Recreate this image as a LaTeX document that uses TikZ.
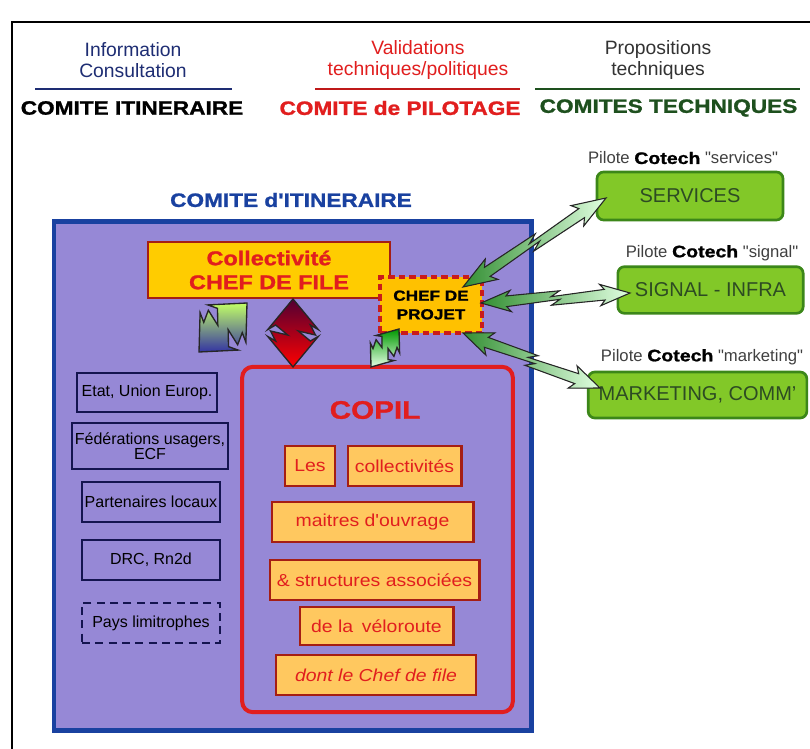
\documentclass[tikz,border=0pt]{standalone}
\usepackage{fontspec}
\setmainfont{Liberation Sans}
\newfontfamily\heavyfont[FakeStretch=1.17,FakeBold=1.2]{Liberation Sans}
\newfontfamily\widefont[FakeStretch=1.12]{Liberation Sans}
\usetikzlibrary{calc}

\definecolor{lilac}{RGB}{150,136,214}
\definecolor{boxblue}{RGB}{25,65,160}
\definecolor{infoblue}{RGB}{30,45,115}
\definecolor{navyline}{RGB}{20,20,80}
\definecolor{pilred}{RGB}{225,30,30}
\definecolor{darkred}{RGB}{165,30,20}
\definecolor{chefyellow}{RGB}{255,204,0}
\definecolor{copilfill}{RGB}{255,200,95}
\definecolor{techgreen}{RGB}{30,80,30}
\definecolor{cotechfill}{RGB}{130,200,40}
\definecolor{cotechdraw}{RGB}{60,135,25}
\definecolor{cotechtext}{RGB}{45,75,35}

% double fleche en zigzag : style, depart, arrivee, part de la tete, demi-largeur tete, demi-largeur corps
\newcommand\jagarrow[6]{%
	\pgfmathsetmacro\jagf{#4}%
	\pgfmathsetmacro\jagn{0.85*#4}%
	\pgfmathsetmacro\jagF{1-#4}%
	\pgfmathsetmacro\jagN{1-0.85*#4}%
	\pgfmathsetlengthmacro\jagH{#5}%
	\pgfmathsetlengthmacro\jagB{#6}%
	\pgfmathsetlengthmacro\jagC{1.3*#6}%
	\pgfmathsetlengthmacro\jagD{0.3*#6}%
	\filldraw[#1] (#2)
		-- ($(#2)!\jagf!(#3)!\jagH!90:(#3)$)
		-- ($(#2)!\jagn!(#3)!\jagB!90:(#3)$)
		-- ($(#2)!0.53!(#3)!\jagC!90:(#3)$)
		-- ($(#2)!0.47!(#3)!\jagD!90:(#3)$)
		-- ($(#2)!\jagN!(#3)!\jagB!90:(#3)$)
		-- ($(#2)!\jagF!(#3)!\jagH!90:(#3)$)
		-- (#3)
		-- ($(#2)!\jagF!(#3)!\jagH!-90:(#3)$)
		-- ($(#2)!\jagN!(#3)!\jagB!-90:(#3)$)
		-- ($(#2)!0.47!(#3)!\jagC!-90:(#3)$)
		-- ($(#2)!0.53!(#3)!\jagD!-90:(#3)$)
		-- ($(#2)!\jagn!(#3)!\jagB!-90:(#3)$)
		-- ($(#2)!\jagf!(#3)!\jagH!-90:(#3)$)
		-- cycle;}

\tikzset{
	head/.style={align=center, font=\fontsize{14.5}{15.5}\selectfont},
	title/.style={font=\heavyfont\bfseries\fontsize{14.5}{16}\selectfont},
	side/.style={draw=navyline, line width=1.8pt, align=center, inner sep=0pt, minimum width=103.5pt, minimum height=30pt, font=\fontsize{12}{12.5}\selectfont},
	copilitem/.style={draw=darkred, line width=2pt, fill=copilfill, inner sep=0pt, minimum height=30pt, text=pilred, font=\widefont\fontsize{13}{14}\selectfont},
	cotech/.style={draw=cotechdraw, line width=2pt, fill=cotechfill, rounded corners=5pt, inner sep=0pt, text=cotechtext, font=\fontsize{15}{16}\selectfont},
	pilote/.style={text=black!75, font=\fontsize{12.5}{13}\selectfont},
	greenarrow/.style={draw=black!85, line width=0.8pt, left color=green!45!black!80, right color=green!12},
}

\begin{document}
\begin{tikzpicture}[x=0.75pt,y=-0.75pt]
	\useasboundingbox (0,0) rectangle (810,749);
	\fill[white] (0,0) rectangle (810,749);
	\draw[line width=1.5pt] (12,749) -- (12,22) -- (810,22);
	
	% en-tetes
	\node[head, text=infoblue] (info) at (133,60) {Information\\Consultation};
	\draw[line width=2.2pt, infoblue] (35,89) -- (232,89);
	\node[title] (titinfo) at (132,108) {COMITE ITINERAIRE};
	
	\node[head, text=pilred] (valid) at (418,60) {Validations\\techniques/politiques};
	\draw[line width=2.2pt, pilred!85!black] (315,89) -- (520,89);
	\node[title, text=pilred] (titpil) at (400,108) {COMITE de PILOTAGE};
	
	\node[head, text=black!80] (propo) at (658,60) {Propositions\\techniques};
	\draw[line width=2.2pt, techgreen] (535,89) -- (800,89);
	\node[title, text=techgreen, anchor=west] (tittech) at (535,108) {COMITES TECHNIQUES};
	
	% comite d'itineraire
	\node[title, text=boxblue] (itinlabel) at (291,200) {COMITE d'ITINERAIRE};
	\node[draw=boxblue, line width=3.5pt, fill=lilac, inner sep=0pt, minimum width=358pt, minimum height=382pt] (itineraire) at (292.5,476) {};
	
	\node[draw=darkred, line width=2pt, fill=chefyellow, align=center, inner sep=0pt, minimum width=181.5pt, minimum height=42pt, text=pilred, font=\heavyfont\bfseries\fontsize{15}{18}\selectfont] (chefdefile) at (269,270) {Collectivité\\CHEF DE FILE};
	\node[draw=pilred!90!black, dashed, dash pattern=on 5pt off 3pt, line width=2.5pt, fill=chefyellow!85!orange, align=center, inner sep=0pt, minimum width=76.5pt, minimum height=42pt, font=\heavyfont\bfseries\fontsize{11}{14}\selectfont] (projet) at (431,305) {CHEF DE\\PROJET};
	
	% partenaires
	\node[side, minimum width=105pt, minimum height=29pt] (etat) at (147,392.5) {Etat, Union Europ.};
	\node[side, minimum width=117pt, minimum height=34.5pt, font=\fontsize{12}{11.5}\selectfont] (federations) at (150,446) {Fédérations usagers,\\ECF};
	\node[side] (partenaires) at (151,502) {Partenaires locaux};
	\node[side] (drc) at (151,560) {DRC, Rn2d};
	\node[side, dashed, dash pattern=on 6pt off 4pt] (pays) at (151,623) {Pays limitrophes};
	
	% copil
	\node[draw=pilred, line width=3pt, rounded corners=8pt, inner sep=0pt, minimum width=203pt, minimum height=259pt] (copil) at (377.5,539.5) {};
	\node[text=pilred, font=\heavyfont\bfseries\fontsize{19}{20}\selectfont] (copiltitle) at (375,410) {COPIL};
	\node[copilitem, minimum width=37.5pt] (les) at (310,466) {Les};
	\node[copilitem, minimum width=85pt] (collectivites) at (404.5,466) {collectivités};
	\node[copilitem, minimum width=151pt] (maitres) at (372.5,522) {maitres d'ouvrage};
	\node[copilitem, minimum width=157pt] (structures) at (374.5,580) {\& structures associées};
	\node[copilitem, minimum width=115pt, minimum height=28.5pt] (veloroute) at (376.5,626) {de la\enspace véloroute};
	\node[copilitem, minimum width=150pt, font=\widefont\itshape\fontsize{13}{14}\selectfont] (dont) at (376,675) {dont le Chef de file};
	
	% comites techniques
	\node[pilote] (pserv) at (683,158) {Pilote {\heavyfont\bfseries\color{black}Cotech} \textquotedbl services\textquotedbl};
	\node[cotech, minimum width=139.5pt, minimum height=36pt] (services) at (690,196) {SERVICES};
	\node[pilote] (psign) at (712,253) {Pilote {\heavyfont\bfseries\color{black}Cotech} \textquotedbl signal\textquotedbl};
	\node[cotech, minimum width=139pt, minimum height=35pt] (signal) at (710.5,290) {SIGNAL - INFRA};
	\node[pilote] (pmark) at (702,357) {Pilote {\heavyfont\bfseries\color{black}Cotech} \textquotedbl marketing\textquotedbl};
	\node[cotech, minimum width=164pt, minimum height=34.5pt] (marketing) at (697.5,395) {MARKETING, COMM'};
	
	% fleches
	\coordinate (a1) at (463,287); \coordinate (b1) at (606,198);
	\coordinate (a2) at (481,303); \coordinate (b2) at (630,293);
	\coordinate (a3) at (463,333); \coordinate (b3) at (600,388);
	\jagarrow{greenarrow}{a1}{b1}{0.2}{9pt}{4pt}
	\jagarrow{greenarrow}{a2}{b2}{0.2}{8pt}{4pt}
	\jagarrow{greenarrow}{a3}{b3}{0.2}{9pt}{4pt}
	
	\coordinate (u1) at (247,303); \coordinate (v1) at (199,352);
	\coordinate (u2) at (293,299); \coordinate (v2) at (293,367);
	\coordinate (u3) at (399,329); \coordinate (v3) at (371,367);
	\jagarrow{draw=black!85, line width=1pt, top color=green!40!yellow!60, bottom color=blue!55!black!80}{u1}{v1}{0.42}{20pt}{13pt}
	\jagarrow{draw=black!85, line width=1pt, top color=red!40!black!80!blue, bottom color=red}{u2}{v2}{0.45}{19pt}{13pt}
	\jagarrow{draw=black!85, line width=1pt, top color=green!60!black, bottom color=green!10}{u3}{v3}{0.4}{11pt}{7pt}
\end{tikzpicture}
\end{document}
